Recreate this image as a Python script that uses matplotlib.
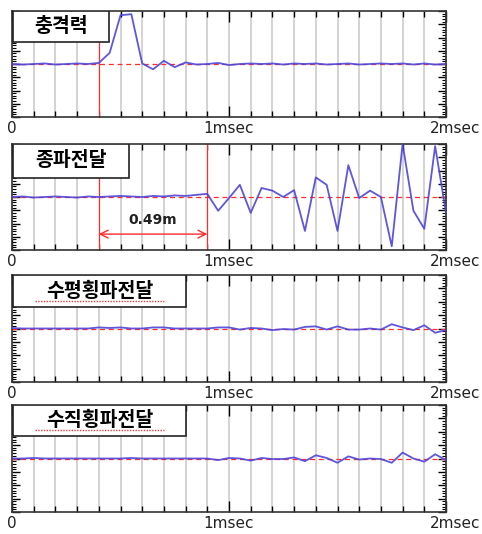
import numpy as np
import matplotlib
matplotlib.use("Agg")
import matplotlib.pyplot as plt
from matplotlib.patches import Rectangle
from matplotlib.ticker import MultipleLocator, FixedLocator, NullFormatter

plt.rcParams['font.family'] = ['DejaVu Sans', 'Noto Sans CJK KR']

# ---- data ----
time_ms = [round(0.05 * i, 2) for i in range(41)]

impact = [0.00, -0.01, 0.00, 0.01, -0.01, 0.00, 0.01, 0.00, 0.02, 0.21,
          0.92, 0.94, 0.01, -0.10, 0.06, -0.06, 0.03, -0.01, 0.00, 0.02,
          -0.02, 0.00, 0.01, 0.00, 0.01, -0.01, 0.01, 0.00, 0.01, -0.01,
          0.00, 0.01, -0.01, 0.00, 0.01, 0.00, 0.01, -0.01, 0.01, -0.01, 0.00]

longitudinal = [0.00, 0.01, -0.01, 0.00, 0.01, 0.00, -0.01, 0.01, 0.00, 0.01,
                0.02, 0.01, 0.00, 0.02, 0.01, 0.03, 0.02, 0.04, 0.06, -0.26,
                -0.02, 0.23, -0.30, 0.17, 0.12, 0.00, 0.13, -0.64, 0.37, 0.23,
                -0.64, 0.60, -0.02, 0.12, 0.00, -0.93, 1.00, -0.26, -0.60, 0.96, -0.30]

horizontal_shear = [0.01, 0.00, 0.00, 0.00, 0.00, 0.00, 0.00, 0.00, 0.02, 0.01,
                    0.02, 0.00, 0.00, 0.02, 0.02, 0.00, 0.00, 0.00, 0.00, 0.02,
                    0.02, -0.02, 0.01, 0.00, -0.03, -0.01, -0.02, 0.03, 0.04, -0.02,
                    0.04, -0.02, -0.02, 0.00, -0.02, 0.08, 0.02, -0.03, 0.06, -0.08, -0.03]

vertical_shear = [0.00, 0.00, 0.01, 0.00, 0.00, 0.00, 0.00, 0.00, 0.00, 0.00,
                  0.00, 0.01, 0.00, 0.00, 0.00, 0.00, 0.00, 0.00, 0.00, -0.03,
                  0.01, 0.00, -0.04, 0.01, -0.01, -0.01, 0.02, -0.05, 0.06, 0.01,
                  -0.08, 0.04, -0.02, 0.00, -0.01, -0.08, 0.11, 0.00, -0.06, 0.08, -0.03]

titles = ['충격력', '종파전달', '수평횡파전달', '수직횡파전달']
series = [impact, longitudinal, horizontal_shear, vertical_shear]
red_markers = [[0.4], [0.4, 0.9], [], []]
xtick_pos = [0, 1, 2]
xtick_labels = ['0', '1msec', '2msec']
arrow_span = [0.4, 0.9]
arrow_label = '0.49m'

# ---- layout ----
W, H = 482, 534
fig = plt.figure(figsize=(W / 100, H / 100), dpi=100)
panels_px = [(11, 117), (144, 250), (275, 382), (405, 512)]
box_w = [0.221, 0.267, 0.399, 0.399]
box_h = [0.29, 0.32, 0.30, 0.29]
underline = [False, False, True, True]
label_shift_pts = [0, 0, 6.5]
left_px, right_px = 12, 446

blue = '#4d44d8'
red = '#ff2a2a'

for i, (top, bot) in enumerate(panels_px):
    ax = fig.add_axes([left_px / W, 1 - bot / H, (right_px - left_px) / W, (bot - top) / H])
    ax.set_xlim(0, 2)
    ax.set_ylim(-1, 1)

    ax.xaxis.set_minor_locator(MultipleLocator(0.1))
    ax.xaxis.set_major_locator(FixedLocator(xtick_pos))
    ax.xaxis.set_major_formatter(NullFormatter())
    for xp, lbl, sh in zip(xtick_pos, xtick_labels, label_shift_pts):
        ax.annotate(lbl, xy=(xp, 0), xycoords=('data', 'axes fraction'),
                    xytext=(sh, -3), textcoords='offset points',
                    ha='center', va='top', fontsize=11, color='#222222',
                    annotation_clip=False)
    ax.grid(True, which='both', axis='x', color='#cccccc', lw=1.2, zorder=0)
    ax.set_axisbelow(True)

    ax.yaxis.set_major_locator(MultipleLocator(0.25))
    ax.yaxis.set_minor_locator(MultipleLocator(0.05))
    ax.set_yticklabels([])
    ax.tick_params(axis='x', which='major', direction='in', length=8, width=1.0,
                   top=True, bottom=True)
    ax.tick_params(axis='x', which='minor', direction='in', length=4, width=1.0,
                   top=True, bottom=True)
    ax.tick_params(axis='y', which='major', direction='in', length=6, width=1.0,
                   left=True, right=True, labelleft=False)
    ax.tick_params(axis='y', which='minor', direction='in', length=3, width=0.8,
                   left=True, right=True)
    for sp in ax.spines.values():
        sp.set_linewidth(1.2)
        sp.set_color('#333333')

    # zero reference line
    ax.axhline(0, color=red, lw=0.9, ls=(0, (4, 3)), zorder=2)
    for xm in red_markers[i]:
        ax.axvline(xm, color='white', lw=1.6, zorder=1)
        ax.axvline(xm, color=red, lw=0.9, zorder=2)

    ax.plot(time_ms, series[i], color=blue, lw=1.3, zorder=3, alpha=0.9)

    # title box
    ax.add_patch(Rectangle((0.002, 1 - box_h[i]), box_w[i], box_h[i] - 0.004,
                           transform=ax.transAxes, facecolor='white',
                           edgecolor='#222222', lw=1.2, zorder=5))
    ax.text(0.002 + box_w[i] / 2, 1 - box_h[i] / 2, titles[i], transform=ax.transAxes,
            ha='center', va='center', fontsize=14, fontweight='bold',
            family=['Noto Sans CJK KR', 'DejaVu Sans'], zorder=6)
    if underline[i]:
        ax.plot([0.002 + box_w[i] * 0.13, 0.002 + box_w[i] * 0.87],
                [1 - box_h[i] * 0.80] * 2, transform=ax.transAxes,
                color='#e04040', lw=1.0, ls=(0, (1, 1)), zorder=6)

    if i == 1:
        ax.annotate('', xy=(arrow_span[1], -0.70), xytext=(arrow_span[0], -0.70),
                    arrowprops=dict(arrowstyle='<->', color=red, lw=1.0,
                                    mutation_scale=14, shrinkA=0, shrinkB=0), zorder=4)
        ax.text(sum(arrow_span) / 2, -0.43, arrow_label, ha='center', va='center',
                fontsize=10, fontweight='bold', color='#222222', zorder=4)

fig.savefig('out.png', dpi=100)
